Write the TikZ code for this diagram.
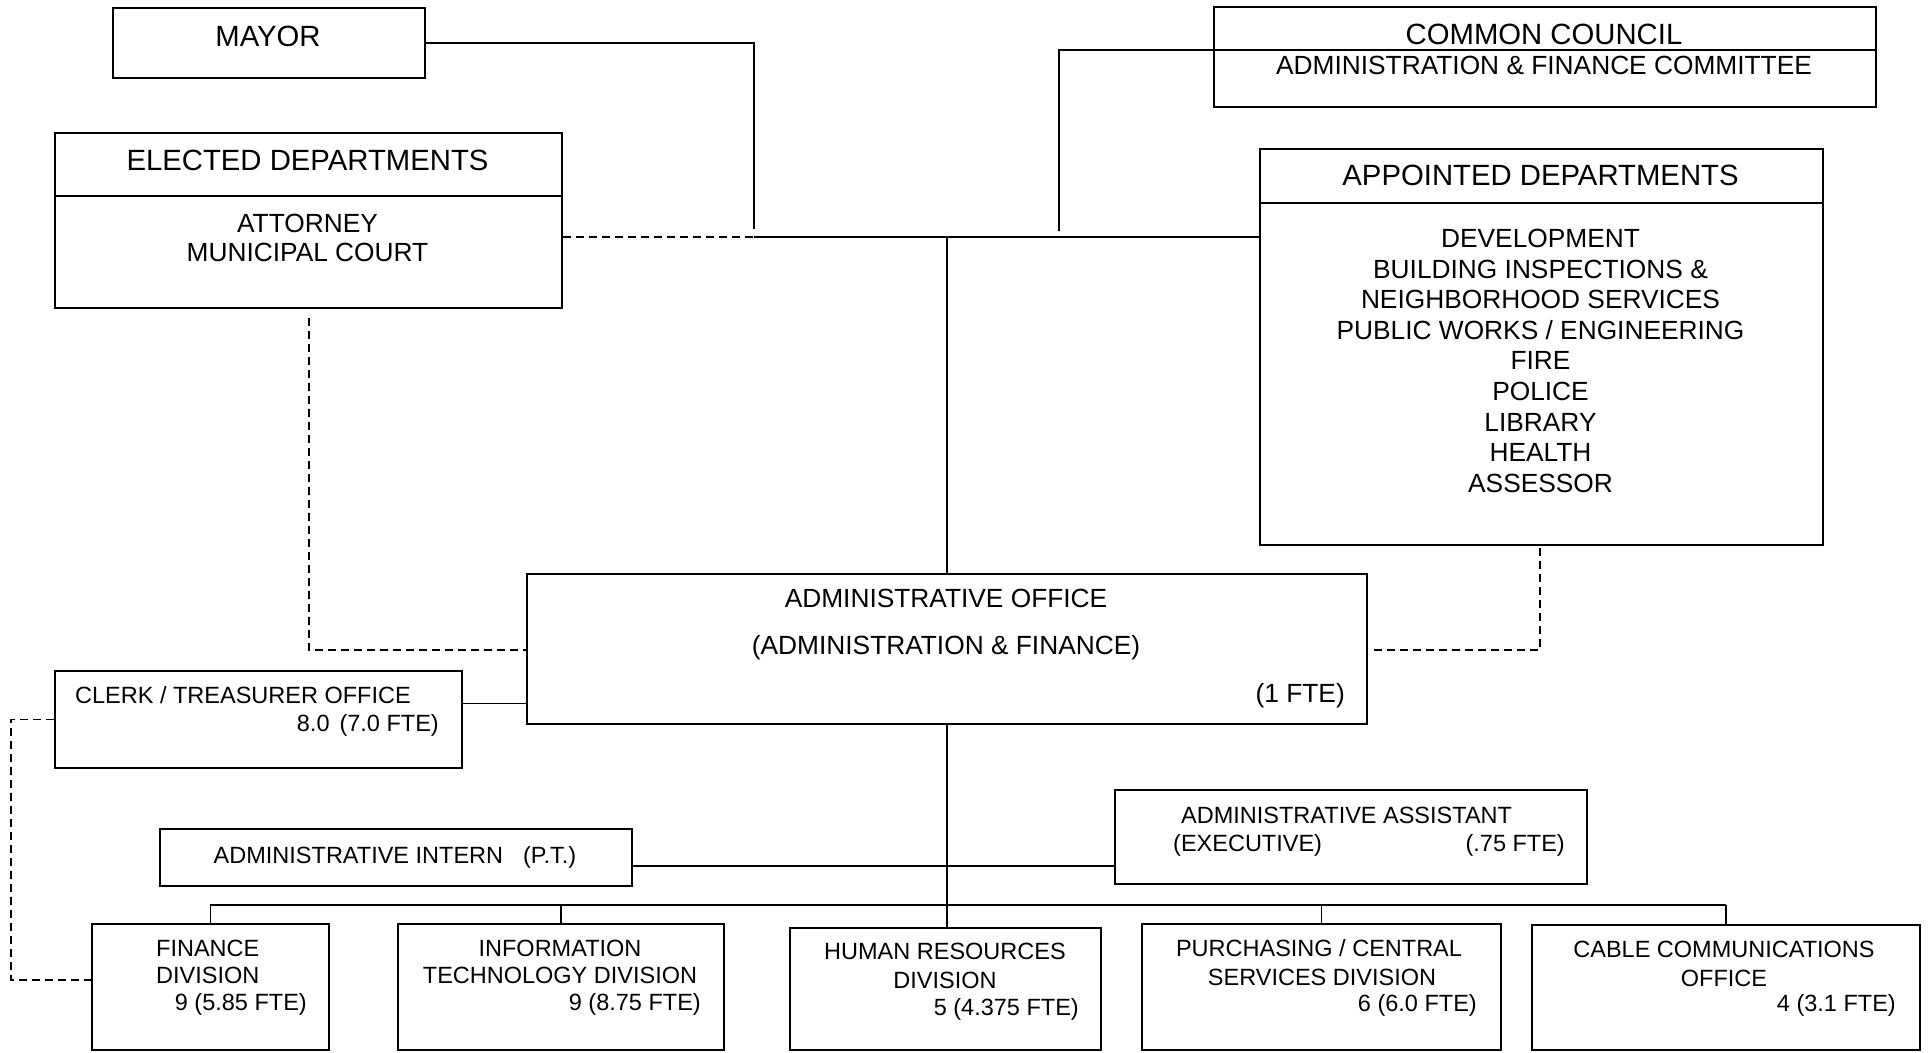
\documentclass[tikz,border=0pt]{standalone}
\usepackage{fontspec}
\setmainfont{Liberation Sans}
\begin{document}
\begin{tikzpicture}[x=1pt, y=-1pt,
	orgbox/.style={draw, line width=1.8pt, inner sep=0pt, anchor=north west},
	link/.style={line width=1.8pt},
	dlink/.style={line width=1.5pt, dash pattern=on 8pt off 5pt},
	txtbig/.style={font=\fontsize{29.3}{35}\selectfont, inner sep=0pt, anchor=base},
	txtmid/.style={font=\fontsize{26.3}{30}\selectfont, inner sep=0pt, anchor=base},
	txtsml/.style={font=\fontsize{23.5}{28}\selectfont, inner sep=0pt, anchor=base}]
	\useasboundingbox (0,0) rectangle (1930,1052);

	\node[orgbox, minimum width=312, minimum height=70] (mayor) at (112,7) {};
	\node[txtbig] (mayorT) at (268,46.5) {MAYOR};
	\node[orgbox, minimum width=662, minimum height=100] (council) at (1213,6) {};
	\node[txtbig] (councilT) at (1544,44.5) {COMMON COUNCIL};
	\node[txtmid] (councilS) at (1544,74.4) {ADMINISTRATION \& FINANCE COMMITTEE};

	\node[orgbox, minimum width=507, minimum height=175] (elected) at (54,132) {};
	\draw[link] ([yshift=-64pt]elected.north west) -- ([yshift=-64pt]elected.north east);
	\node[txtbig] (electedT) at (307.5,170.5) {ELECTED DEPARTMENTS};
	\node[txtmid] (electedA) at (307.5,232.4) {ATTORNEY};
	\node[txtmid] (electedB) at (307.5,261.4) {MUNICIPAL COURT};

	\node[orgbox, minimum width=563, minimum height=396] (appointed) at (1259,148) {};
	\draw[link] ([yshift=-55pt]appointed.north west) -- ([yshift=-55pt]appointed.north east);
	\node[txtbig] (appointedT) at (1540.5,185.5) {APPOINTED DEPARTMENTS};
	\foreach \t [count=\i from 0] in {DEVELOPMENT, BUILDING INSPECTIONS \&, NEIGHBORHOOD SERVICES,
		PUBLIC WORKS / ENGINEERING, FIRE, POLICE, LIBRARY, HEALTH, ASSESSOR}
		\node[txtmid] (appt\i) at (1540.5,247.4+30.6*\i) {\t};

	\node[orgbox, minimum width=840, minimum height=150] (admin) at (526,573) {};
	\node[txtmid] (adminT) at (946,607.4) {ADMINISTRATIVE OFFICE};
	\node[txtmid] (adminS) at (946,654.4) {(ADMINISTRATION \& FINANCE)};
	\node[txtmid, anchor=base east] (adminF) at (1345,702.4) {(1 FTE)};

	\node[orgbox, minimum width=407, minimum height=97] (clerk) at (54,670) {};
	\node[txtsml, anchor=base west] (clerkT) at (75,703.4) {CLERK / TREASURER OFFICE};
	\node[txtsml, anchor=base east] (clerkF) at (439,731.4) {8.0\hspace{10pt}(7.0 FTE)};

	\node[orgbox, minimum width=472, minimum height=57] (intern) at (159,828) {};
	\node[txtsml] (internT) at (395,863.4) {ADMINISTRATIVE INTERN\hspace{20pt}(P.T.)};

	\node[orgbox, minimum width=472, minimum height=94] (assist) at (1114,789) {};
	\node[txtsml, anchor=base west] (assistT) at (1181,823.4) {ADMINISTRATIVE ASSISTANT};
	\node[txtsml, anchor=base west] (assistS) at (1173,851.4) {(EXECUTIVE)};
	\node[txtsml, anchor=base east] (assistF) at (1565,851.4) {(.75 FTE)};

	\node[orgbox, minimum width=237, minimum height=126] (finance) at (91,923) {};
	\node[txtsml, anchor=base west] (financeA) at (156,956.4) {FINANCE};
	\node[txtsml, anchor=base west] (financeB) at (156,983.4) {DIVISION};
	\node[txtsml, anchor=base east] (financeF) at (307,1010.4) {9 (5.85 FTE)};

	\node[orgbox, minimum width=326, minimum height=126] (it) at (397,923) {};
	\node[txtsml] (itA) at (560,956.4) {INFORMATION};
	\node[txtsml] (itB) at (560,983.4) {TECHNOLOGY DIVISION};
	\node[txtsml, anchor=base east] (itF) at (701,1010.4) {9 (8.75 FTE)};

	\node[orgbox, minimum width=311, minimum height=122] (hr) at (789,927) {};
	\node[txtsml] (hrA) at (945,959.4) {HUMAN RESOURCES};
	\node[txtsml] (hrB) at (945,988.4) {DIVISION};
	\node[txtsml, anchor=base east] (hrF) at (1079,1015.4) {5 (4.375 FTE)};

	\node[orgbox, minimum width=359, minimum height=126] (purch) at (1141,923) {};
	\node[txtsml] (purchA) at (1319,956.4) {PURCHASING / CENTRAL};
	\node[txtsml] (purchB) at (1322,985.4) {SERVICES DIVISION};
	\node[txtsml, anchor=base east] (purchF) at (1477,1011.4) {6 (6.0 FTE)};

	\node[orgbox, minimum width=388, minimum height=125] (cable) at (1531,924) {};
	\node[txtsml] (cableA) at (1724,957.4) {CABLE COMMUNICATIONS};
	\node[txtsml] (cableB) at (1724,986.4) {OFFICE};
	\node[txtsml, anchor=base east] (cableF) at (1896,1011.4) {4 (3.1 FTE)};

	\coordinate (mturn) at (754,229);
	\coordinate (hub) at (754,237);
	\coordinate (ctop) at (1059,50);
	\coordinate (cbot) at (1059,231);
	\coordinate (edrop) at (309,318);
	\coordinate (ecorner) at (309,650);
	\coordinate (adrop) at (1540,548);
	\coordinate (acorner) at (1540,650);
	\coordinate (clerkout) at ([yshift=16pt]clerk.east);
	\coordinate (sidecorner) at (11,980);
	\coordinate (internout) at ([yshift=-8.5pt]intern.east);
	\coordinate (bus) at (946,905);

	\draw[link] (mayor.east) -| (mturn);
	\draw[link] (hub) -- (hub -| appointed.west);
	\draw[link] (council.east |- ctop) -- (ctop) -- (cbot);
	\draw[dlink] (hub -| elected.east) -- (hub);
	\draw[link] (hub -| admin.north) -- (admin.north);
	\draw[dlink] (edrop) -- (ecorner) -- (ecorner -| admin.west);
	\draw[dlink] (adrop) -- (acorner) -- ([xshift=5pt]acorner -| admin.east);
	\draw[link] (clerkout) -- (clerkout -| admin.west);
	\draw[dlink] (clerk.west) -| (sidecorner) -- (sidecorner -| finance.west);
	\draw[link] (admin.south) -- (admin.south |- hr.north);
	\draw[link] (internout) -- (internout -| assist.west);
	\draw[link] (bus -| finance.north) -- (bus -| cable.north);
	\foreach \d in {finance, it, purch, cable}
		\draw[link] (bus -| \d.north) -- (\d.north);
\end{tikzpicture}
\end{document}
